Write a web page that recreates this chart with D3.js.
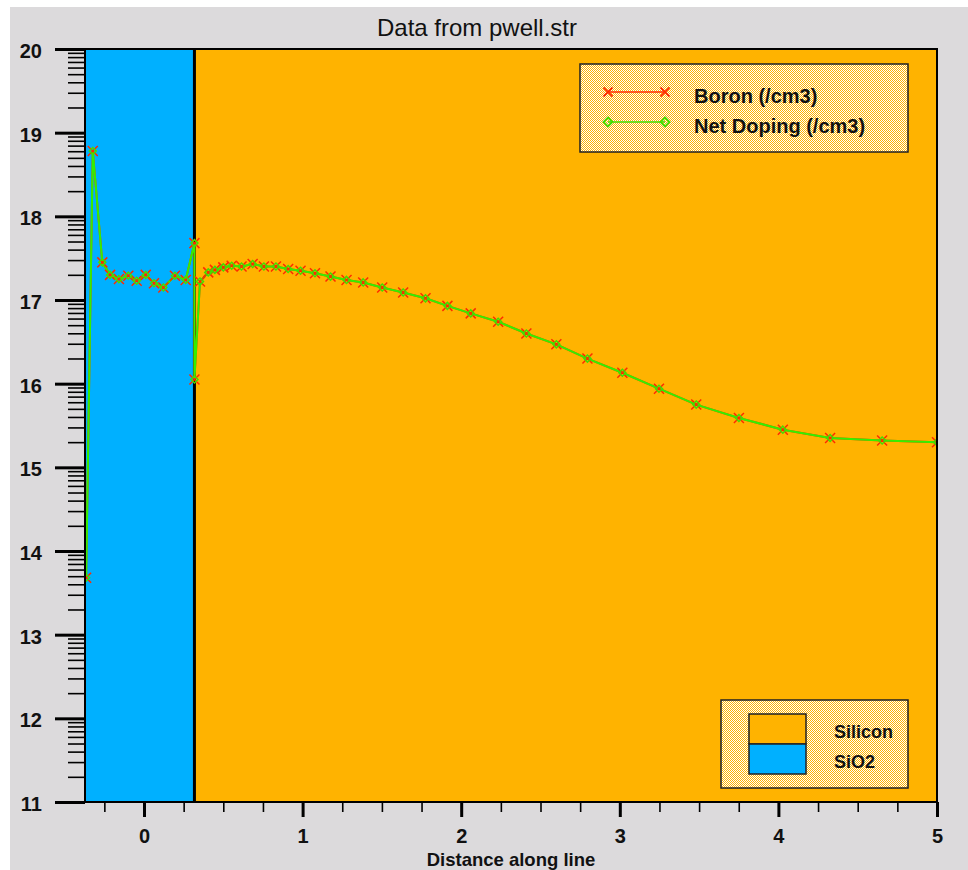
<!DOCTYPE html>
<html>
<head>
<meta charset="utf-8">
<script src="https://cdn.jsdelivr.net/npm/d3@7/dist/d3.min.js"></script>
<style>
  html, body { margin: 0; padding: 0; background: #ffffff; }
  svg { display: block; }
  text { font-family: "Liberation Sans", Arial, sans-serif; fill: #111; }
</style>
</head>
<body>
<svg id="chart" width="968" height="870"></svg>
<script>
// Distance along the cut line (microns)
const distance = [-0.365, -0.323, -0.263, -0.214, -0.158, -0.099, -0.046, 0.011, 0.063, 0.122,
  0.195, 0.263, 0.318, 0.318, 0.353, 0.405, 0.447, 0.500, 0.553, 0.615,
  0.685, 0.756, 0.832, 0.909, 0.987, 1.078, 1.176, 1.277, 1.382, 1.502,
  1.634, 1.775, 1.913, 2.060, 2.233, 2.411, 2.600, 2.796, 3.016, 3.247,
  3.482, 3.751, 4.028, 4.326, 4.654, 5.000];

// log10 of Boron concentration (/cm3)
const boron = [13.68, 18.78, 17.45, 17.30, 17.25, 17.29, 17.23, 17.30, 17.20, 17.15,
  17.29, 17.24, 17.68, 16.05, 17.22, 17.33, 17.36, 17.39, 17.41, 17.40,
  17.43, 17.40, 17.40, 17.37, 17.35, 17.32, 17.28, 17.24, 17.21, 17.15,
  17.09, 17.02, 16.93, 16.84, 16.74, 16.60, 16.47, 16.30, 16.13, 15.94,
  15.75, 15.59, 15.45, 15.35, 15.32, 15.30];

// log10 of Net Doping (/cm3)
const netDoping = [13.68, 18.78, 17.45, 17.30, 17.25, 17.29, 17.23, 17.30, 17.20, 17.15,
  17.29, 17.24, 17.68, 16.05, 17.22, 17.33, 17.36, 17.39, 17.41, 17.40,
  17.43, 17.40, 17.40, 17.37, 17.35, 17.32, 17.28, 17.24, 17.21, 17.15,
  17.09, 17.02, 16.93, 16.84, 16.74, 16.60, 16.47, 16.30, 16.13, 15.94,
  15.75, 15.59, 15.45, 15.35, 15.32, 15.30];

// Material regions along the line
const materials = ["SiO2", "Silicon"];
const regionStart = [-0.372, 0.318];
const regionEnd = [0.318, 5.0];
const materialColors = { "SiO2": "#00b0ff", "Silicon": "#ffb300" };

// Axis ticks
const xTicks = [0, 1, 2, 3, 4, 5];
const xMinorTicks = d3.range(-0.25, 5.0001, 0.25);
const yTicks = [11, 12, 13, 14, 15, 16, 17, 18, 19, 20];
const seriesNames = ["Boron (/cm3)", "Net Doping (/cm3)"];

const svg = d3.select("#chart");
const L = 85, R = 937, T = 49, B = 802;

const x = d3.scaleLinear().domain([-0.372, 5]).range([L, R]);
const y = d3.scaleLinear().domain([11, 20]).range([B, T]);

// panel background
svg.append("rect").attr("x", 10).attr("y", 7).attr("width", 958).attr("height", 863)
  .attr("fill", "#dcdadc");

// stipple fill for legend boxes
const defs = svg.append("defs");
const pat = defs.append("pattern").attr("id", "stipple").attr("width", 2).attr("height", 2)
  .attr("patternUnits", "userSpaceOnUse");
pat.append("rect").attr("width", 2).attr("height", 2).attr("fill", "#ffffff");
pat.append("rect").attr("width", 1).attr("height", 1).attr("fill", "#ffb300");
pat.append("rect").attr("x", 1).attr("y", 1).attr("width", 1).attr("height", 1).attr("fill", "#ffb300");

defs.append("clipPath").attr("id", "plotclip").append("rect")
  .attr("x", L).attr("y", T).attr("width", R - L).attr("height", B - T);

// material regions
svg.append("g").selectAll("rect").data(materials).join("rect")
  .attr("x", (d, i) => x(regionStart[i]))
  .attr("y", T)
  .attr("width", (d, i) => x(regionEnd[i]) - x(regionStart[i]))
  .attr("height", B - T)
  .attr("fill", d => materialColors[d]);

// interface line
svg.append("line").attr("x1", x(regionEnd[0])).attr("x2", x(regionEnd[0]))
  .attr("y1", T).attr("y2", B).attr("stroke", "#000").attr("stroke-width", 3);

// data
const plot = svg.append("g").attr("clip-path", "url(#plotclip)");
const pts = (vals) => distance.map((d, i) => [d, vals[i]]);
const line = d3.line().x(d => x(d[0])).y(d => y(d[1]));

plot.append("path").attr("d", line(pts(boron))).attr("fill", "none")
  .attr("stroke", "#ff3000").attr("stroke-width", 2);
plot.append("path").attr("d", line(pts(netDoping))).attr("fill", "none")
  .attr("stroke", "#33f000").attr("stroke-width", 2);

const crossPath = (cx, cy, s) => `M${cx - s},${cy - s}L${cx + s},${cy + s}M${cx - s},${cy + s}L${cx + s},${cy - s}`;
const diamondPath = (cx, cy, s) => `M${cx},${cy - s}L${cx + s},${cy}L${cx},${cy + s}L${cx - s},${cy}Z`;

plot.append("g").selectAll("path").data(pts(boron)).join("path")
  .attr("d", d => crossPath(x(d[0]), y(d[1]), 5))
  .attr("stroke", "#ff2a00").attr("stroke-width", 1.5).attr("fill", "none");
plot.append("g").selectAll("path").data(pts(netDoping)).join("path")
  .attr("d", d => diamondPath(x(d[0]), y(d[1]), 3.5))
  .attr("stroke", "#44dd00").attr("stroke-width", 1.5).attr("fill", "none");

// plot border
svg.append("rect").attr("x", L).attr("y", T).attr("width", R - L).attr("height", B - T)
  .attr("fill", "none").attr("stroke", "#000").attr("stroke-width", 2);

// y axis: major ticks with labels, minor log ticks
const yMinor = [];
for (let v = 11; v < 20; v++) for (let k = 2; k <= 9; k++) yMinor.push(v + Math.log10(k));

const yAxisMinor = svg.append("g").attr("transform", `translate(${L},0)`)
  .call(d3.axisLeft(y).tickValues(yMinor).tickSize(17).tickFormat(""));
yAxisMinor.select(".domain").remove();
yAxisMinor.selectAll("line").attr("stroke", "#000").attr("stroke-width", 1.6);

const yAxis = svg.append("g").attr("transform", `translate(${L},0)`)
  .call(d3.axisLeft(y).tickValues(yTicks).tickSize(30).tickPadding(13).tickFormat(d3.format("d")));
yAxis.select(".domain").remove();
yAxis.selectAll("line").attr("stroke", "#000").attr("stroke-width", 3);
yAxis.selectAll("text").attr("font-size", 20).attr("font-weight", "bold")
  .attr("font-family", "Liberation Sans, Arial, sans-serif").attr("fill", "#111").attr("dy", "0.42em");

// x axis
const xAxisMinor = svg.append("g").attr("transform", `translate(0,${B})`)
  .call(d3.axisBottom(x).tickValues(xMinorTicks).tickSize(10).tickFormat(""));
xAxisMinor.select(".domain").remove();
xAxisMinor.selectAll("line").attr("stroke", "#000").attr("stroke-width", 1.6);

const xAxis = svg.append("g").attr("transform", `translate(0,${B})`)
  .call(d3.axisBottom(x).tickValues(xTicks).tickSize(15).tickPadding(12).tickFormat(d3.format("d")));
xAxis.select(".domain").remove();
xAxis.selectAll("line").attr("stroke", "#000").attr("stroke-width", 3);
xAxis.selectAll("text").attr("font-size", 20).attr("font-weight", "bold")
  .attr("font-family", "Liberation Sans, Arial, sans-serif").attr("fill", "#111");

// titles
svg.append("text").attr("x", 477).attr("y", 36).attr("text-anchor", "middle")
  .attr("font-size", 24).text("Data from pwell.str");
svg.append("text").attr("x", (L + R) / 2).attr("y", 866).attr("text-anchor", "middle")
  .attr("font-size", 18.5).attr("font-weight", "bold").text("Distance along line");

// series legend
const leg = svg.append("g");
leg.append("rect").attr("x", 580).attr("y", 64).attr("width", 328).attr("height", 88)
  .attr("fill", "url(#stipple)").attr("stroke", "#222").attr("stroke-width", 1.5);
const legY = [92, 122];
const legColors = ["#ff3000", "#44dd00"];
seriesNames.forEach((name, i) => {
  leg.append("line").attr("x1", 608).attr("x2", 665).attr("y1", legY[i]).attr("y2", legY[i])
    .attr("stroke", legColors[i]).attr("stroke-width", 1.5);
  [608, 665].forEach(cx => {
    leg.append("path")
      .attr("d", i === 0 ? crossPath(cx, legY[i], 4.5) : diamondPath(cx, legY[i], 4.5))
      .attr("stroke", legColors[i]).attr("stroke-width", 1.8).attr("fill", "none");
  });
  leg.append("text").attr("x", 694).attr("y", legY[i] + 11).attr("font-size", 20)
    .attr("font-weight", "bold").text(name);
});

// material legend
const mleg = svg.append("g");
mleg.append("rect").attr("x", 721).attr("y", 700).attr("width", 187).attr("height", 88)
  .attr("fill", "url(#stipple)").attr("stroke", "#222").attr("stroke-width", 1.5);
const matOrder = ["Silicon", "SiO2"];
matOrder.forEach((m, i) => {
  mleg.append("rect").attr("x", 749).attr("y", 714 + i * 30).attr("width", 57).attr("height", 30)
    .attr("fill", materialColors[m]).attr("stroke", "#222").attr("stroke-width", 1.5);
  mleg.append("text").attr("x", 834).attr("y", 738 + i * 30).attr("font-size", 18)
    .attr("font-weight", "bold").text(m);
});
</script>
</body>
</html>
